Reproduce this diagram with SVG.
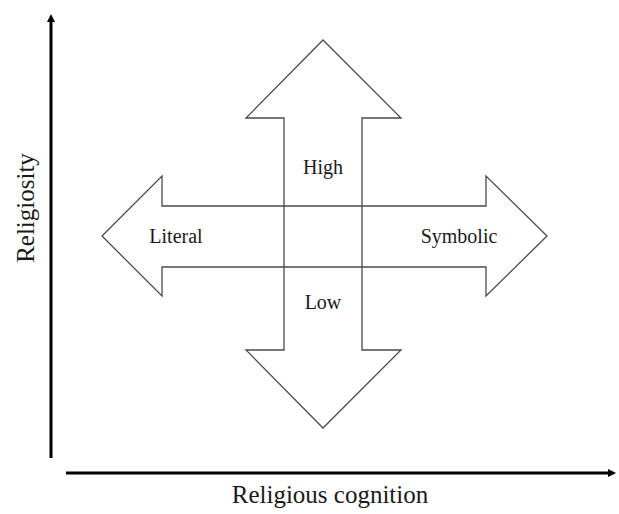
<svg xmlns="http://www.w3.org/2000/svg" width="619" height="514" viewBox="0 0 619 514">
<style>
.shape{fill:none;stroke:#4a4a4a;stroke-width:1.3;stroke-linejoin:miter}
.lbl{font-family:"Liberation Serif",serif;font-size:20px;fill:#1a1a1a;text-anchor:middle}
.ax{font-family:"Liberation Serif",serif;font-size:25px;fill:#1a1a1a;text-anchor:middle}
.axis{stroke:#000;stroke-width:3;fill:none}
</style>
<defs>
<marker id="ah" markerWidth="8" markerHeight="8" refX="4" refY="4" orient="auto" markerUnits="userSpaceOnUse" viewBox="0 0 8 8">
<path d="M0,0 L8,4 L0,8 z" fill="#000"/>
</marker>
</defs>
<g id="axes">
<line class="axis" x1="51" y1="458" x2="51" y2="18" marker-end="url(#ah)"/>
<line class="axis" x1="66" y1="473" x2="612" y2="473" marker-end="url(#ah)"/>
</g>
<g id="vertical-arrow">
<polygon class="shape" points="323,40 401,118 362,118 362,350 401,350 323,428 246,350 284,350 284,118 246,118"/>
</g>
<g id="horizontal-arrow">
<polygon class="shape" points="102,236 162,176 162,206 486,206 486,176 547,236 486,296 486,267 162,267 162,296"/>
</g>
<g id="labels">
<text class="lbl" x="323" y="174">High</text>
<text class="lbl" x="323" y="309">Low</text>
<text class="lbl" x="176" y="243">Literal</text>
<text class="lbl" x="459" y="243">Symbolic</text>
</g>
<g id="axis-labels">
<text class="ax" x="330" y="503">Religious cognition</text>
<text class="ax" transform="translate(34,208) rotate(-90)">Religiosity</text>
</g>
</svg>
